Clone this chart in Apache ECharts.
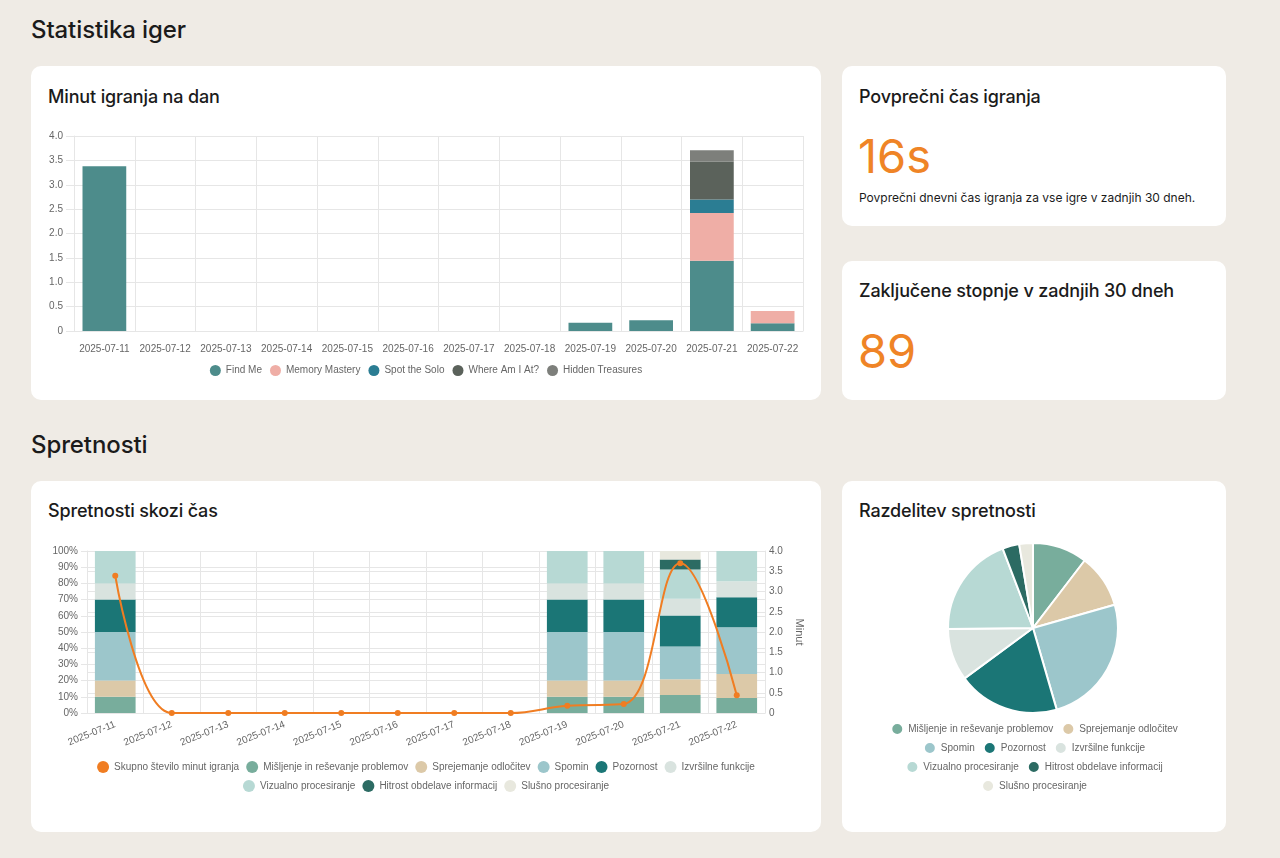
<!DOCTYPE html>
<html>
<head>
<meta charset="utf-8">
<script src="https://cdn.jsdelivr.net/npm/echarts@6/dist/echarts.min.js"></script>
<style>
  html, body { margin: 0; padding: 0; }
  body { width: 1280px; height: 858px; background: #efebe5; position: relative; overflow: hidden;
         font-family: Inter, "Noto Sans", sans-serif; color: #1b1b1b; }
  .h1 { position: absolute; left: 31px; font-size: 24px; font-weight: 500; line-height: 32px; letter-spacing: -0.1px; }
  .card { position: absolute; background: #fff; border-radius: 10px; }
  .ct { position: absolute; left: 17px; font-size: 18px; font-weight: 500; line-height: 24px; letter-spacing: -0.15px; }
  .big { position: absolute; left: 16px; font-size: 47px; font-weight: 400; line-height: 50px; color: #ef8426; }
  .desc { position: absolute; left: 17px; font-size: 12px; line-height: 18px; }
  .chart { position: absolute; }
</style>
</head>
<body>
<div class="h1" style="top:14px">Statistika iger</div>
<div class="card" style="left:31px;top:66px;width:790px;height:334px"><div class="ct" style="top:19px">Minut igranja na dan</div></div>
<div class="card" style="left:842px;top:66px;width:384px;height:160px">
  <div class="ct" style="top:19px">Povprečni čas igranja</div>
  <div class="big" style="top:65px">16s</div>
  <div class="desc" style="top:123px">Povprečni dnevni čas igranja za vse igre v zadnjih 30 dneh.</div>
</div>
<div class="card" style="left:842px;top:261px;width:384px;height:139px">
  <div class="ct" style="top:18px">Zaključene stopnje v zadnjih 30 dneh</div>
  <div class="big" style="top:65px">89</div>
</div>
<div class="h1" style="top:429px">Spretnosti</div>
<div class="card" style="left:31px;top:481px;width:790px;height:351px"><div class="ct" style="top:18px">Spretnosti skozi čas</div></div>
<div class="card" style="left:842px;top:481px;width:384px;height:351px"><div class="ct" style="top:18px">Razdelitev spretnosti</div></div>

<div id="c1" class="chart" style="left:31px;top:66px;width:790px;height:334px"></div>
<div id="c2" class="chart" style="left:31px;top:481px;width:790px;height:351px"></div>
<div id="c3" class="chart" style="left:842px;top:481px;width:384px;height:351px"></div>

<script>
// ---------- Data ----------
const dates = ['2025-07-11','2025-07-12','2025-07-13','2025-07-14','2025-07-15','2025-07-16',
               '2025-07-17','2025-07-18','2025-07-19','2025-07-20','2025-07-21','2025-07-22'];

// Minut igranja na dan (per game)
const findMe          = [3.38, 0, 0, 0, 0, 0, 0, 0, 0.17, 0.22, 1.44, 0.16];
const memoryMastery   = [0, 0, 0, 0, 0, 0, 0, 0, 0, 0, 0.98, 0.25];
const spotTheSolo     = [0, 0, 0, 0, 0, 0, 0, 0, 0, 0, 0.28, 0];
const whereAmIAt      = [0, 0, 0, 0, 0, 0, 0, 0, 0, 0, 0.77, 0];
const hiddenTreasures = [0, 0, 0, 0, 0, 0, 0, 0, 0, 0, 0.24, 0];

// Spretnosti skozi čas (percent shares per day) + total minutes
const totalMinutes = [3.39, 0, 0, 0, 0, 0, 0, 0, 0.18, 0.22, 3.70, 0.44];
const misljenje    = [10, 0, 0, 0, 0, 0, 0, 0, 10, 10, 11.1, 9.3];
const sprejemanje  = [10, 0, 0, 0, 0, 0, 0, 0, 10, 10, 9.7, 14.8];
const spomin       = [30, 0, 0, 0, 0, 0, 0, 0, 30, 30, 20.2, 28.9];
const pozornost    = [20, 0, 0, 0, 0, 0, 0, 0, 20, 20, 19.2, 18.5];
const izvrsilne    = [10, 0, 0, 0, 0, 0, 0, 0, 10, 10, 10.3, 9.9];
const vizualno     = [20, 0, 0, 0, 0, 0, 0, 0, 20, 20, 18.1, 18.6];
const hitrost      = [0, 0, 0, 0, 0, 0, 0, 0, 0, 0, 6.2, 0];
const slusno       = [0, 0, 0, 0, 0, 0, 0, 0, 0, 0, 5.2, 0];

// Razdelitev spretnosti (pie shares)
const skillNames  = ['Mišljenje in reševanje problemov','Sprejemanje odločitev','Spomin','Pozornost',
                     'Izvršilne funkcije','Vizualno procesiranje','Hitrost obdelave informacij','Slušno procesiranje'];
const skillShares = [10.4, 10.2, 24.9, 19.4, 9.9, 19.4, 3.2, 2.6];

const gameNames = ['Find Me','Memory Mastery','Spot the Solo','Where Am I At?','Hidden Treasures'];
const totalName = 'Skupno število minut igranja';
const minuteTicks = { min: 0, max: 4, interval: 0.5 };

// ---------- Styles ----------
const gameColors  = ['#4d8c8b','#efaea6','#2b7d93','#5b625b','#7d7f7b'];
const skillColors = ['#78ad9c','#dcc9a8','#9cc6cb','#1b7676','#d9e3df','#b7d9d4','#2c6b63','#e8e8de'];
const orange = '#f07d22';
const FONT = '"Liberation Sans", Arial, sans-serif';
const gridC = '#e6e6e6';
const txt = { color: '#666', fontSize: 10, fontFamily: FONT };
const minFmt = v => v === 0 ? '0' : v.toFixed(1);

// ---------- Chart 1 ----------
const c1 = echarts.init(document.getElementById('c1'));
const games = [findMe, memoryMastery, spotTheSolo, whereAmIAt, hiddenTreasures];
c1.setOption({
  animation: false,
  grid: { left: 43, right: 18, top: 70, bottom: 69 },
  legend: { top: 294, left: 'center', icon: 'circle', itemWidth: 11, itemHeight: 11, itemGap: 8,
            textStyle: txt, data: gameNames },
  xAxis: { type: 'category', data: dates,
           axisLine: { lineStyle: { color: gridC } },
           axisTick: { length: 8, lineStyle: { color: gridC } },
           splitLine: { show: true, lineStyle: { color: gridC } },
           axisLabel: { ...txt, margin: 13, interval: 0 } },
  yAxis: { type: 'value', ...minuteTicks,
           axisLine: { show: true, lineStyle: { color: gridC } },
           axisTick: { show: true, length: 8, lineStyle: { color: gridC } },
           splitLine: { lineStyle: { color: gridC } },
           axisLabel: { ...txt, margin: 11, formatter: minFmt } },
  series: games.map((d, i) => ({ name: gameNames[i], type: 'bar', stack: 'g', barWidth: '72%',
           itemStyle: { color: gameColors[i] }, data: d }))
});

// ---------- Chart 2 ----------
const c2 = echarts.init(document.getElementById('c2'));
const skills = [misljenje, sprejemanje, spomin, pozornost, izvrsilne, vizualno, hitrost, slusno];
const legendStyle = { left: 'center', icon: 'circle', itemWidth: 12, itemHeight: 12, itemGap: 7, textStyle: txt };
c2.setOption({
  animation: false,
  grid: { left: 56, right: 56, top: 70, bottom: 119 },
  legend: [
    { ...legendStyle, top: 275, data: [totalName].concat(skillNames.slice(0, 5)) },
    { ...legendStyle, top: 294, data: skillNames.slice(5) }
  ],
  xAxis: { type: 'category', data: dates,
           axisLine: { lineStyle: { color: gridC } },
           axisTick: { length: 6, lineStyle: { color: gridC } },
           splitLine: { show: true, lineStyle: { color: gridC } },
           axisLabel: { ...txt, margin: 11, rotate: 22, interval: 0 } },
  yAxis: [
    { type: 'value', min: 0, max: 100, interval: 10,
      axisLine: { show: true, lineStyle: { color: gridC } },
      axisTick: { show: true, length: 6, lineStyle: { color: gridC } },
      splitLine: { lineStyle: { color: gridC } },
      axisLabel: { ...txt, margin: 9, formatter: '{value}%' } },
    { type: 'value', ...minuteTicks, position: 'right', name: 'Minut', nameLocation: 'middle',
      nameGap: 23, nameRotate: -90, nameTextStyle: { color: '#666', fontSize: 11, fontFamily: FONT },
      axisLine: { show: true, lineStyle: { color: gridC } },
      axisTick: { show: false },
      splitLine: { lineStyle: { color: gridC } },
      axisLabel: { ...txt, margin: 4, formatter: minFmt } }
  ],
  series: [
    { name: totalName, type: 'line', yAxisIndex: 1, z: 5, smooth: 0.4,
      symbol: 'circle', symbolSize: 6, itemStyle: { color: orange },
      lineStyle: { color: orange, width: 2 }, data: totalMinutes }
  ].concat(skills.map((d, i) => ({ name: skillNames[i], type: 'bar', stack: 's', barWidth: '72%',
      itemStyle: { color: skillColors[i] }, data: d })))
});

// ---------- Chart 3 ----------
const c3 = echarts.init(document.getElementById('c3'));
const pieLegend = { left: 'center', icon: 'circle', itemWidth: 12, itemHeight: 12, itemGap: 8, textStyle: txt };
c3.setOption({
  animation: false,
  color: skillColors,
  legend: [
    { ...pieLegend, top: 236, data: skillNames.slice(0, 2) },
    { ...pieLegend, top: 255, data: skillNames.slice(2, 5) },
    { ...pieLegend, top: 274, data: skillNames.slice(5, 7) },
    { ...pieLegend, top: 293, data: skillNames.slice(7) }
  ],
  series: [{ type: 'pie', center: [191, 147], radius: 85, startAngle: 90, clockwise: true,
    label: { show: false }, labelLine: { show: false },
    itemStyle: { borderColor: '#fff', borderWidth: 2 },
    data: skillNames.map((n, i) => ({ name: n, value: skillShares[i] })) }]
});
</script>
</body>
</html>
